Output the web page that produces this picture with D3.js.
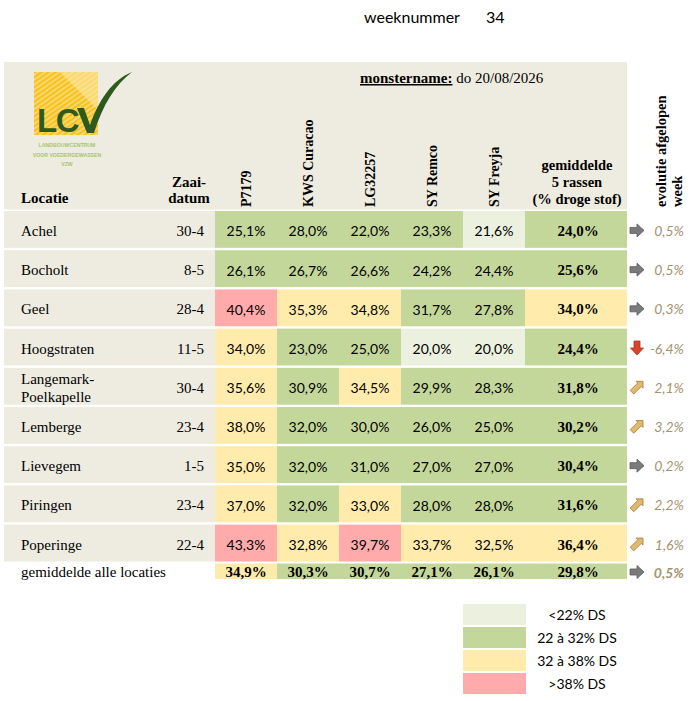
<!DOCTYPE html>
<html>
<head>
<meta charset="utf-8">
<script src="https://cdn.jsdelivr.net/npm/d3@7"></script>
<style>
  body { margin: 0; background: #fff; }
  .serif { font-family: 'Liberation Serif', 'DejaVu Serif', serif; }
  .sans { font-family: Lato, 'Open Sans', sans-serif; }
</style>
</head>
<body>
<div id="chart"></div>
<script>
// data
const weekNumber = 34
const samplingDate = 'do 20/08/2026'
const locations = ['Achel', 'Bocholt', 'Geel', 'Hoogstraten', 'Langemark-Poelkapelle',
  'Lemberge', 'Lievegem', 'Piringen', 'Poperinge']
const sowingDates = ['30-4', '8-5', '28-4', '11-5', '30-4', '23-4', '1-5', '23-4', '22-4']
const varieties = ['P7179', 'KWS Curacao', 'LG32257', 'SY Remco', 'SY Freyja']
const dryMatter = [
  [25.1, 28.0, 22.0, 23.3, 21.6],
  [26.1, 26.7, 26.6, 24.2, 24.4],
  [40.4, 35.3, 34.8, 31.7, 27.8],
  [34.0, 23.0, 25.0, 20.0, 20.0],
  [35.6, 30.9, 34.5, 29.9, 28.3],
  [38.0, 32.0, 30.0, 26.0, 25.0],
  [35.0, 32.0, 31.0, 27.0, 27.0],
  [37.0, 32.0, 33.0, 28.0, 28.0],
  [43.3, 32.8, 39.7, 33.7, 32.5]
]
const meanFiveVarieties = [24.0, 25.6, 34.0, 24.4, 31.8, 30.2, 30.4, 31.6, 36.4]
const weeklyChange = [0.5, 0.5, 0.3, -6.4, 2.1, 3.2, 0.2, 2.2, 1.6]
const meanAllLocations = [34.9, 30.3, 30.7, 27.1, 26.1]
const meanAllMean = 29.8
const meanAllChange = 0.5
const thresholds = [22, 32, 38]
const legendLabels = ['<22% DS', '22 à 32% DS', '32 à 38% DS', '>38% DS']

const width = 695
const height = 701
const tableLeft = 4
const tableRight = 627
const cellLeft = 215
const meanLeft = 525
const beige = '#EEECE1'

const svg = d3
  .select('#chart')
  .append('svg')
  .attr('width', width)
  .attr('height', height)

const nl = d3.formatLocale({ decimal: ',', thousands: '.', grouping: [3], currency: ['', '€'], minus: '-' })
const pct = v => nl.format('.1f')(v) + '%'

const xScale = d3.scaleBand().domain(varieties).range([cellLeft, meanLeft])
const yScale = d3.scaleBand().domain(locations).range([211, 561.5]).paddingInner(0.06)
// 32,0 still green and 38,0 still yellow
const colorScale = d3
  .scaleThreshold()
  .domain(thresholds.map((t, i) => (i === 0 ? t : t + 0.05)))
  .range(['#EBF1DE', '#C4D79B', '#FFEBAB', '#FFABAB'])

// title bits
svg.append('text').attr('class', 'sans')
  .attr('x', 364).attr('y', 23).attr('font-size', 16)
  .text('weeknummer')
svg.append('text').attr('class', 'sans')
  .attr('x', 486).attr('y', 23).attr('font-size', 16)
  .text(weekNumber)

// header block
svg.append('rect')
  .attr('x', tableLeft).attr('y', 62)
  .attr('width', tableRight - tableLeft).attr('height', 147.5)
  .attr('fill', beige)

const title = svg.append('text').attr('class', 'serif')
  .attr('x', 360).attr('y', 83).attr('font-size', 15)
title.append('tspan').attr('font-weight', 'bold').attr('text-decoration', 'underline').text('monstername:')
title.append('tspan').text(' ' + samplingDate)

// logo
const defs = svg.append('defs')
const hatch = defs.append('pattern')
  .attr('id', 'hatch').attr('patternUnits', 'userSpaceOnUse')
  .attr('width', 4).attr('height', 4)
  .attr('patternTransform', 'rotate(-35)')
hatch.append('rect').attr('width', 4).attr('height', 4).attr('fill', '#F7C21B')
hatch.append('line').attr('x1', 0).attr('y1', 1).attr('x2', 4).attr('y2', 1)
  .attr('stroke', '#FBE39A').attr('stroke-width', 1.3)
const logo = svg.append('g')
logo.append('rect').attr('x', 34).attr('y', 72).attr('width', 64).attr('height', 63).attr('fill', 'url(#hatch)')
logo.append('path')
  .attr('d', 'M60,72 L98,72 L98,110 Z')
  .attr('fill', '#FBE7A8').attr('opacity', 0.6)
logo.append('text')
  .attr('x', 37).attr('y', 132)
  .attr('font-family', "'Liberation Sans', Arial, sans-serif")
  .attr('font-weight', 'bold').attr('font-size', 33)
  .attr('letter-spacing', -1.5)
  .attr('fill', '#2F5A1E')
  .text('LC')
logo.append('path')
  .attr('d', 'M77,108 L84,108 L90,125 C99,100 112,80 132,72 C116,84 103,104 94,133 L87,133 Z')
  .attr('fill', '#2F5A1E')
const logoLines = ['LANDBOUWCENTRUM', 'VOOR VOEDERGEWASSEN', 'VZW']
logo.selectAll('.logo-line')
  .data(logoLines)
  .enter()
  .append('text')
  .attr('class', 'logo-line')
  .attr('x', 67).attr('y', (d, i) => 147 + i * 9.5)
  .attr('text-anchor', 'middle')
  .attr('font-family', "'Liberation Sans', Arial, sans-serif")
  .attr('font-size', 5.2).attr('font-weight', 'bold')
  .attr('fill', '#A7C46A')
  .text(d => d)

// column headers
svg.append('text').attr('class', 'serif')
  .attr('x', 21).attr('y', 203).attr('font-size', 15).attr('font-weight', 'bold')
  .text('Locatie')
svg.append('text').attr('class', 'serif')
  .attr('x', 189).attr('y', 187).attr('font-size', 15).attr('font-weight', 'bold')
  .attr('text-anchor', 'middle').text('Zaai-')
svg.append('text').attr('class', 'serif')
  .attr('x', 189).attr('y', 203).attr('font-size', 15).attr('font-weight', 'bold')
  .attr('text-anchor', 'middle').text('datum')

svg.selectAll('.var-label')
  .data(varieties)
  .enter()
  .append('text')
  .attr('class', 'var-label serif')
  .attr('transform', d => 'translate(' + (xScale(d) + xScale.bandwidth() / 2 + 5) + ',207) rotate(-90)')
  .attr('font-size', 14).attr('font-weight', 'bold')
  .text(d => d)

const meanHeader = ['gemiddelde', '5 rassen', '(% droge stof)']
svg.selectAll('.mean-head')
  .data(meanHeader)
  .enter()
  .append('text')
  .attr('class', 'mean-head serif')
  .attr('x', (meanLeft + tableRight) / 2 + 1)
  .attr('y', (d, i) => 170 + i * 17)
  .attr('text-anchor', 'middle')
  .attr('font-size', 14.5).attr('font-weight', 'bold')
  .text(d => d)

const evoHeader = ['evolutie afgelopen', 'week']
svg.selectAll('.evo-head')
  .data(evoHeader)
  .enter()
  .append('text')
  .attr('class', 'evo-head serif')
  .attr('transform', (d, i) => 'translate(' + (666 + i * 16) + ',207) rotate(-90)')
  .attr('font-size', 14.5).attr('font-weight', 'bold')
  .text(d => d)

// rows
const rows = svg.selectAll('.row')
  .data(locations)
  .enter()
  .append('g')
  .attr('class', 'row')
  .attr('transform', d => 'translate(0,' + yScale(d) + ')')

const bw = yScale.bandwidth()
const baseOff = bw / 2 + 6.5

rows.append('rect')
  .attr('x', tableLeft).attr('width', cellLeft - tableLeft)
  .attr('height', bw).attr('fill', beige)

rows.each(function(loc, r) {
  const g = d3.select(this)
  const parts = loc.includes('-') ? [loc.split('-')[0] + '-', loc.split('-')[1]] : [loc]
  g.selectAll('.loc')
    .data(parts)
    .enter()
    .append('text')
    .attr('class', 'loc serif')
    .attr('x', 21)
    .attr('y', (d, i) => baseOff + (i - (parts.length - 1) / 2) * 18)
    .attr('font-size', 15)
    .text(d => d)

  g.append('text').attr('class', 'serif')
    .attr('x', 204).attr('y', baseOff)
    .attr('text-anchor', 'end').attr('font-size', 15)
    .text(sowingDates[r])

  const cells = g.selectAll('.cell')
    .data(dryMatter[r])
    .enter()
    .append('g')
    .attr('class', 'cell')
  cells.append('rect')
    .attr('x', (d, i) => xScale(varieties[i]))
    .attr('width', xScale.bandwidth())
    .attr('height', bw)
    .attr('fill', d => colorScale(d))
  cells.append('text')
    .attr('class', 'sans')
    .attr('x', (d, i) => xScale(varieties[i]) + xScale.bandwidth() / 2)
    .attr('y', baseOff + 0.5)
    .attr('text-anchor', 'middle')
    .attr('font-size', 14)
    .text(d => pct(d))

  g.append('rect')
    .attr('x', meanLeft).attr('width', tableRight - meanLeft)
    .attr('height', bw).attr('fill', colorScale(meanFiveVarieties[r]))
  g.append('text').attr('class', 'serif')
    .attr('x', (meanLeft + tableRight) / 2 + 2).attr('y', baseOff)
    .attr('text-anchor', 'middle').attr('font-size', 15).attr('font-weight', 'bold')
    .text(pct(meanFiveVarieties[r]))
})

// arrows for the weekly change
const straightArrow = 'M-7,-3 L0,-3 L0,-6.5 L7,0 L0,6.5 L0,3 L-7,3 Z'
const cornerArrow = 'M-1,-6 L6,-6 L6,1 L4.3,-0.7 L-3.2,6.8 L-6.8,3.2 L0.7,-4.3 Z'
function arrowStyle(v) {
  if (v <= -1) return { d: straightArrow, rot: 90, fill: '#D5472B', stroke: '#A8321C' }
  if (v >= 1) return { d: cornerArrow, rot: 0, fill: '#E2B76E', stroke: '#A37B3B' }
  return { d: straightArrow, rot: 0, fill: '#7A7A7A', stroke: '#5C5C5C' }
}
function drawChange(yc, v, bold) {
  const st = arrowStyle(v)
  svg.append('path')
    .attr('d', st.d)
    .attr('transform', 'translate(637,' + yc + ') rotate(' + st.rot + ')')
    .attr('fill', st.fill).attr('stroke', st.stroke).attr('stroke-width', 0.8)
  svg.append('text').attr('class', 'sans')
    .attr('x', 684).attr('y', yc + 5.5)
    .attr('text-anchor', 'end').attr('font-size', 14)
    .attr('font-style', 'italic')
    .attr('font-weight', bold ? 'bold' : 'normal')
    .attr('fill', '#A3936F')
    .text(pct(v))
}
locations.forEach((loc, r) => drawChange(yScale(loc) + bw / 2 + 1, weeklyChange[r], false))

// mean over all locations
const avgTop = 563.5
const avgH = 15.5
svg.append('text').attr('class', 'serif')
  .attr('x', 21).attr('y', 577).attr('font-size', 15)
  .text('gemiddelde alle locaties')
svg.selectAll('.avg-cell')
  .data(meanAllLocations)
  .enter()
  .append('rect')
  .attr('class', 'avg-cell')
  .attr('x', (d, i) => xScale(varieties[i]))
  .attr('y', avgTop)
  .attr('width', xScale.bandwidth())
  .attr('height', avgH)
  .attr('fill', d => colorScale(d))
svg.selectAll('.avg-text')
  .data(meanAllLocations)
  .enter()
  .append('text')
  .attr('class', 'avg-text serif')
  .attr('x', (d, i) => xScale(varieties[i]) + xScale.bandwidth() / 2)
  .attr('y', 577)
  .attr('text-anchor', 'middle').attr('font-size', 15).attr('font-weight', 'bold')
  .text(d => pct(d))
svg.append('rect')
  .attr('x', meanLeft).attr('y', avgTop)
  .attr('width', tableRight - meanLeft).attr('height', avgH)
  .attr('fill', colorScale(meanAllMean))
svg.append('text').attr('class', 'serif')
  .attr('x', (meanLeft + tableRight) / 2 + 2).attr('y', 577)
  .attr('text-anchor', 'middle').attr('font-size', 15).attr('font-weight', 'bold')
  .text(pct(meanAllMean))
drawChange(572, meanAllChange, true)

// legend
const legend = svg.selectAll('.legend')
  .data(legendLabels)
  .enter()
  .append('g')
  .attr('class', 'legend')
  .attr('transform', (d, i) => 'translate(463,' + (604 + i * 23) + ')')
legend.append('rect')
  .attr('width', 63).attr('height', 21)
  .attr('fill', (d, i) => colorScale.range()[i])
legend.append('text').attr('class', 'sans')
  .attr('x', 114).attr('y', 15.5)
  .attr('text-anchor', 'middle').attr('font-size', 14)
  .text(d => d)
</script>
</body>
</html>
